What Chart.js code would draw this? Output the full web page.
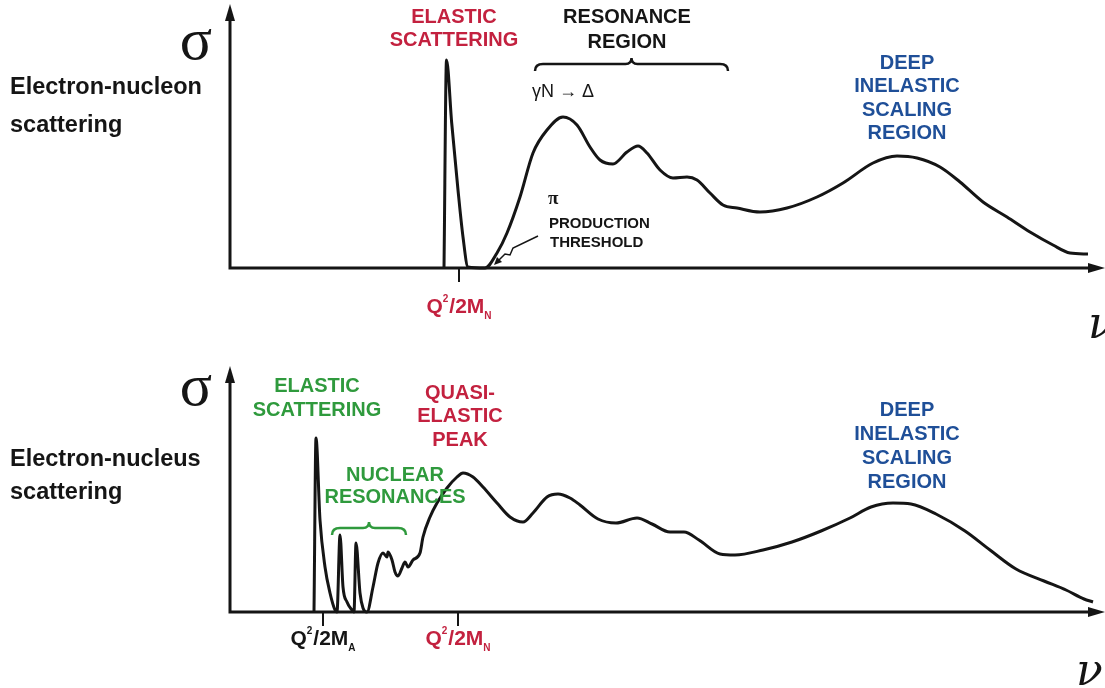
<!DOCTYPE html>
<html>
<head>
<meta charset="utf-8">
<script src="https://cdn.jsdelivr.net/npm/chart.js@4.4.0/dist/chart.umd.min.js"></script>
<style>
  html, body { margin: 0; padding: 0; background: #fff; }
  #wrap { position: relative; width: 1105px; height: 688px; overflow: hidden; }
  .panel { position: absolute; left: 0; }
  #top { top: 0; }
  #bottom { top: 340px; }
</style>
</head>
<body>
<div id="wrap">
  <div class="panel" id="top"><canvas id="chart-nucleon" width="1105" height="340"></canvas></div>
  <div class="panel" id="bottom"><canvas id="chart-nucleus" width="1105" height="348"></canvas></div>
</div>
<script>
// energy transfer nu and cross section sigma, arbitrary units
var nucleonNu = [21.4, 21.65, 22.17, 22.8, 23.3, 23.8, 25.5, 26.7, 27.7, 29.0, 30.3, 31.7, 33.3, 34.7, 36.0, 37.0, 38.3, 39.7, 40.8, 41.7,
                 43.0, 44.3, 45.7, 46.7, 48.0, 49.3, 50.7, 53.0, 55.7, 58.7, 61.3, 64.3, 66.7, 68.7, 71.0, 73.0, 75.3, 77.7, 80.0, 82.3, 84.0, 85.8];
var nucleonSigma = [0, 20.8, 14.5, 7.8, 3.1, 0.1, 0, 1.5, 3.5, 7.1, 11.5, 13.8, 15.1, 14.3, 12.1, 10.8, 10.4, 11.6, 12.2, 11.5,
                    9.8, 9.0, 9.1, 8.8, 7.5, 6.3, 6.0, 5.6, 6.0, 7.1, 8.5, 10.5, 11.2, 11.0, 10.1, 8.6, 6.6, 5.1, 3.6, 2.3, 1.5, 1.4];

var nucleusNu = [8.4, 8.6, 9.0, 9.5, 10.0, 10.5, 10.7, 11.0, 11.3, 11.7, 12.2, 12.4, 12.6, 13.0, 13.3, 13.7, 14.3, 14.8, 15.3, 15.7,
                 15.8, 16.2, 16.5, 16.8, 17.2, 17.5, 17.8, 18.3, 19.0, 19.3, 20.0, 20.7, 21.7, 22.7, 23.3, 24.3, 25.3, 26.7, 28.0, 29.3,
                 30.3, 31.7, 32.8, 34.0, 35.0, 36.8, 38.6, 40.7, 42.2, 44.0, 45.4, 46.9, 49.0, 50.5, 53.3, 56.2, 59.1, 62.0, 64.1, 66.3,
                 68.1, 70.6, 73.5, 76.0, 78.6, 81.4, 83.6, 85.4, 86.3];
var nucleusSigma = [0, 17.4, 9.2, 4.5, 1.9, 0.2, 0, 7.7, 2.5, 1.0, 0.2, 0, 6.9, 1.9, 0.4, 0, 2.5, 4.9, 5.9, 5.5,
                    6.0, 5.2, 4.0, 3.6, 4.4, 5.0, 4.5, 5.2, 5.9, 7.5, 9.5, 10.9, 12.4, 13.5, 13.9, 13.5, 12.5, 10.9, 9.5, 9.0,
                    9.9, 11.5, 11.8, 11.4, 10.7, 9.3, 8.9, 9.4, 8.8, 8.0, 8.0, 7.2, 5.8, 5.7, 6.2, 7.0, 8.1, 9.4, 10.5, 10.9,
                    10.8, 9.8, 8.1, 6.2, 4.3, 3.1, 2.2, 1.3, 1.0];

// tick marks on the nu axis: Q^2/2M with subscript
var nucleonTicks = [22.9];
var nucleonTickSubs = ["N"];
var nucleusTicks = [9.3, 22.8];
var nucleusTickSubs = ["A", "N"];

var RED = "#c3213f", GREEN = "#2f9a3d", BLUE = "#1f4f98", INK = "#151515";
var SANS = '"Liberation Sans", Arial, sans-serif';

function points(xs, ys) {
    return xs.map(function(x, i) { return { x: x, y: ys[i] }; });
}

function lines(ctx, list, cx, y0, dy, font, color) {
    ctx.font = font;
    ctx.fillStyle = color;
    ctx.textAlign = "center";
    ctx.textBaseline = "middle";
    list.forEach(function(t, i) { ctx.fillText(t, cx, y0 + i * dy); });
}

function brace(ctx, x1, x2, y, color) {
    var xm = (x1 + x2) / 2;
    ctx.strokeStyle = color;
    ctx.lineWidth = 2.5;
    ctx.beginPath();
    ctx.moveTo(x1, y + 7);
    ctx.quadraticCurveTo(x1, y, x1 + 8, y);
    ctx.lineTo(xm - 6, y);
    ctx.quadraticCurveTo(xm, y, xm, y - 6);
    ctx.quadraticCurveTo(xm, y, xm + 6, y);
    ctx.lineTo(x2 - 8, y);
    ctx.quadraticCurveTo(x2, y, x2, y + 7);
    ctx.stroke();
}

function qLabel(ctx, cx, base, sub, color) {
    var big = "bold 21px " + SANS, small = "bold 10px " + SANS;
    ctx.font = big;
    var wQ = ctx.measureText("Q").width, wM = ctx.measureText("/2M").width;
    ctx.font = small;
    var w2 = ctx.measureText("2").width + 1, wS = ctx.measureText(sub).width;
    var x = cx - (wQ + w2 + wM + wS) / 2;
    ctx.fillStyle = color;
    ctx.textAlign = "left";
    ctx.textBaseline = "alphabetic";
    ctx.font = big; ctx.fillText("Q", x, base); x += wQ;
    ctx.font = small; ctx.fillText("2", x, base - 11); x += w2;
    ctx.font = big; ctx.fillText("/2M", x, base); x += wM;
    ctx.font = small; ctx.fillText(sub, x, base + 6);
}

function axes(chart, ticks, subs, colors, labelBase) {
    var ctx = chart.ctx, a = chart.chartArea, xs = chart.scales.x;
    var right = chart.width;
    ctx.save();
    ctx.strokeStyle = INK;
    ctx.fillStyle = INK;
    ctx.lineWidth = 3;
    ctx.beginPath();
    ctx.moveTo(a.left, a.bottom);
    ctx.lineTo(a.left, a.top + 8);
    ctx.moveTo(a.left - 1.5, a.bottom);
    ctx.lineTo(right - 12, a.bottom);
    ctx.stroke();
    ctx.beginPath();
    ctx.moveTo(a.left, a.top - 4);
    ctx.lineTo(a.left - 5, a.top + 13);
    ctx.lineTo(a.left + 5, a.top + 13);
    ctx.closePath();
    ctx.fill();
    ctx.beginPath();
    ctx.moveTo(right, a.bottom);
    ctx.lineTo(right - 17, a.bottom - 5);
    ctx.lineTo(right - 17, a.bottom + 5);
    ctx.closePath();
    ctx.fill();
    ctx.lineWidth = 2;
    ticks.forEach(function(v, i) {
        var px = xs.getPixelForValue(v);
        ctx.beginPath();
        ctx.moveTo(px, a.bottom);
        ctx.lineTo(px, a.bottom + 14);
        ctx.stroke();
        qLabel(ctx, px, labelBase, subs[i], colors[i]);
    });
    ctx.restore();
}

function sideText(ctx, sigmaBase, l1, l2, y1, y2, nuBase, nuX) {
    ctx.fillStyle = INK;
    ctx.textAlign = "center";
    ctx.textBaseline = "alphabetic";
    ctx.font = '60px "Liberation Serif", "DejaVu Serif", serif';
    ctx.fillText("σ", 196, sigmaBase);
    ctx.textAlign = "left";
    ctx.textBaseline = "middle";
    ctx.font = "bold 23.5px " + SANS;
    ctx.fillText(l1, 10, y1);
    ctx.fillText(l2, 10, y2);
    ctx.textBaseline = "alphabetic";
    ctx.font = 'italic 44px "DejaVu Serif", "Liberation Serif", serif';
    ctx.fillText("ν", nuX, nuBase);
}

var nucleonDeco = {
    id: "nucleonDeco",
    afterDraw: function(chart) {
        var ctx = chart.ctx;
        axes(chart, nucleonTicks, nucleonTickSubs, [RED], 313);
        ctx.save();
        sideText(ctx, 59, "Electron-nucleon", "scattering", 88, 126, 338, 1088);
        lines(ctx, ["ELASTIC", "SCATTERING"], 454, 17, 23, "bold 20px " + SANS, RED);
        lines(ctx, ["RESONANCE", "REGION"], 627, 17, 25, "bold 20px " + SANS, INK);
        brace(ctx, 535, 728, 64, INK);
        ctx.textAlign = "left";
        ctx.font = "18px " + SANS;
        ctx.fillText("γN → Δ", 532, 92);
        ctx.font = 'bold 19px "Liberation Serif", serif';
        ctx.fillText("π", 548, 199);
        ctx.font = "bold 15px " + SANS;
        ctx.fillText("PRODUCTION", 549, 224);
        ctx.fillText("THRESHOLD", 550, 243);
        // little pointer down to the threshold
        ctx.strokeStyle = INK;
        ctx.lineWidth = 1.5;
        ctx.beginPath();
        ctx.moveTo(538, 236);
        ctx.lineTo(513, 248);
        ctx.lineTo(510, 255);
        ctx.lineTo(505, 254);
        ctx.lineTo(498, 261);
        ctx.stroke();
        ctx.beginPath();
        ctx.moveTo(494, 265);
        ctx.lineTo(497, 257);
        ctx.lineTo(502, 262);
        ctx.closePath();
        ctx.fillStyle = INK;
        ctx.fill();
        lines(ctx, ["DEEP", "INELASTIC", "SCALING", "REGION"], 907, 63, 23.5, "bold 20px " + SANS, BLUE);
        ctx.restore();
    }
};

var nucleusDeco = {
    id: "nucleusDeco",
    afterDraw: function(chart) {
        var ctx = chart.ctx;
        axes(chart, nucleusTicks, nucleusTickSubs, [INK, RED], 305);
        ctx.save();
        sideText(ctx, 65, "Electron-nucleus", "scattering", 120, 153, 345, 1076);
        lines(ctx, ["ELASTIC", "SCATTERING"], 317, 46, 24, "bold 20px " + SANS, GREEN);
        lines(ctx, ["QUASI-", "ELASTIC", "PEAK"], 460, 53, 23.5, "bold 20px " + SANS, RED);
        lines(ctx, ["NUCLEAR", "RESONANCES"], 395, 135, 22, "bold 20px " + SANS, GREEN);
        brace(ctx, 332, 406, 188, GREEN);
        lines(ctx, ["DEEP", "INELASTIC", "SCALING", "REGION"], 907, 70, 24, "bold 20px " + SANS, BLUE);
        ctx.restore();
    }
};

function makeChart(id, xs, ys, yMax, pad, deco) {
    return new Chart(document.getElementById(id), {
        type: "line",
        data: {
            datasets: [{
                data: points(xs, ys),
                borderColor: INK,
                borderWidth: 3,
                pointRadius: 0,
                fill: false,
                cubicInterpolationMode: "monotone",
                clip: 6
            }]
        },
        options: {
            responsive: false,
            animation: false,
            layout: { padding: pad },
            scales: {
                x: { type: "linear", min: 0, max: 87.3, display: false },
                y: { min: 0, max: yMax, display: false }
            },
            plugins: {
                legend: { display: false },
                tooltip: { enabled: false }
            }
        },
        plugins: [deco]
    });
}

makeChart("chart-nucleon", nucleonNu, nucleonSigma, 26, { left: 230, right: 2, top: 8, bottom: 72 }, nucleonDeco);
makeChart("chart-nucleus", nucleusNu, nucleusSigma, 24.2, { left: 230, right: 2, top: 30, bottom: 76 }, nucleusDeco);
</script>
</body>
</html>
